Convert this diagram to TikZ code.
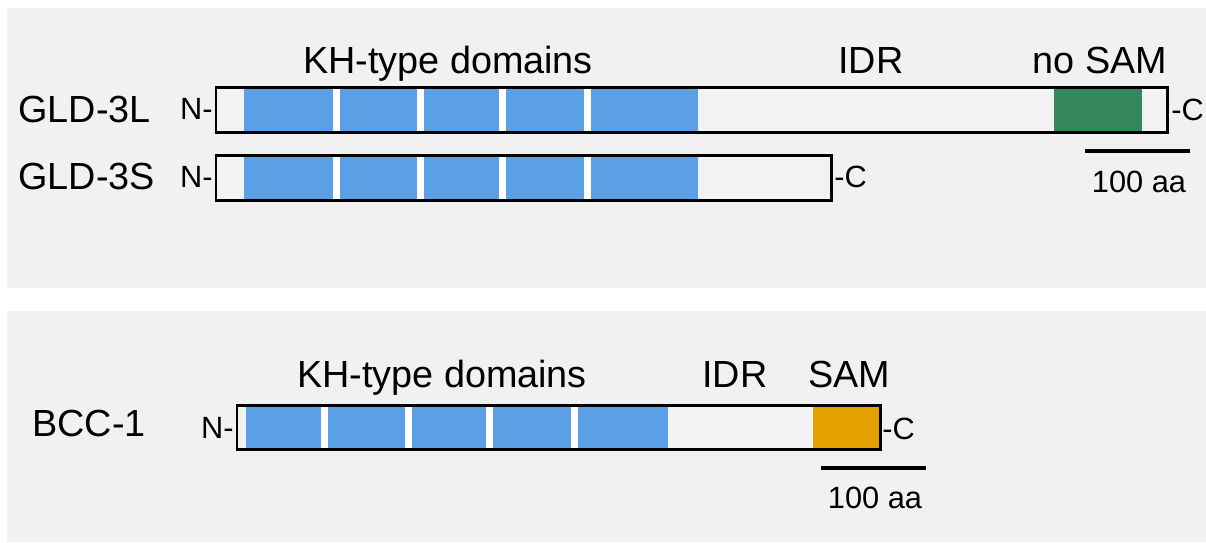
\documentclass[tikz,border=0pt]{standalone}
\usepackage{fontspec}
\setmainfont{Liberation Sans}
\definecolor{panelgray}{HTML}{F1F1F1}
\definecolor{barfill}{HTML}{F2F2F2}
\definecolor{khblue}{HTML}{5BA0E4}
\definecolor{samgreen}{HTML}{34875A}
\definecolor{samorange}{HTML}{E5A000}
\tikzset{
  biglabel/.style={font=\fontsize{21.5}{24}\selectfont, inner sep=0pt},
  smalllabel/.style={font=\fontsize{17.5}{20}\selectfont, inner sep=0pt},
  outline/.style={draw=black, line width=1.7pt},
  scalebar/.style={line width=2.3pt},
}
\begin{document}
\begin{tikzpicture}[x=0.02cm, y=-0.02cm]
  \useasboundingbox (0,0) rectangle (1206,542);
  \fill[panelgray] (7,8) rectangle (1206,288);
  \fill[panelgray] (7,311) rectangle (1206,542);

  % GLD-3L
  \fill[barfill] (216,87) rectangle (1167,132);
  \fill[khblue] (244,87) rectangle (698,132);
  \foreach \s in {333,417,499,584}
    \fill[white] (\s,87) rectangle ++(7,45);
  \fill[samgreen] (1054,87) rectangle (1142,132);
  \draw[outline] (216,87) rectangle (1167,132);

  % GLD-3S
  \fill[barfill] (216,155) rectangle (831,200);
  \fill[khblue] (244,155) rectangle (698,200);
  \foreach \s in {333,417,499,584}
    \fill[white] (\s,155) rectangle ++(7,45);
  \draw[outline] (216,155) rectangle (831,200);

  % BCC-1
  \fill[barfill] (237,405) rectangle (880,449);
  \fill[khblue] (246,405) rectangle (668,449);
  \foreach \s in {321,405,486,571}
    \fill[white] (\s,405) rectangle ++(6.5,44);
  \fill[samorange] (813,405) rectangle (879,449);
  \draw[outline] (237,405) rectangle (880,449);

  \node[biglabel, anchor=west] (gldL) at (18,109) {GLD-3L};
  \node[biglabel, anchor=west] (gldS) at (18,176) {GLD-3S};
  \node[biglabel, anchor=west] (bcc) at (32,423) {BCC-1};

  \node[smalllabel, anchor=east] (nL) at (213,109) {N-};
  \node[smalllabel, anchor=east] (nS) at (213,177) {N-};
  \node[smalllabel, anchor=east] (nB) at (234,428) {N-};
  \node[smalllabel, anchor=west] (cL) at (1171,110) {-C};
  \node[smalllabel, anchor=west] (cS) at (834,177) {-C};
  \node[smalllabel, anchor=west] (cB) at (882,429) {-C};

  \node[biglabel, anchor=base] (khTop) at (448,73) {KH-type domains};
  \node[biglabel, anchor=base] (idrTop) at (871,73) {IDR};
  \node[biglabel, anchor=base] (nosam) at (1100,73) {no SAM};
  \node[biglabel, anchor=base] (khBot) at (442,387) {KH-type domains};
  \node[biglabel, anchor=base] (idrBot) at (735,387) {IDR};
  \node[biglabel, anchor=base] (sam) at (849,387) {SAM};

  % 100 aa scale bars
  \coordinate (sbTopA) at (1085,151);
  \coordinate (sbTopB) at (1190,151);
  \draw[scalebar] (sbTopA) -- (sbTopB);
  \node[smalllabel, anchor=base] (aaTop) at (1139,192) {100 aa};
  \coordinate (sbBotA) at (821,468);
  \coordinate (sbBotB) at (926,468);
  \draw[scalebar] (sbBotA) -- (sbBotB);
  \node[smalllabel, anchor=base] (aaBot) at (875,508) {100 aa};
\end{tikzpicture}
\end{document}
